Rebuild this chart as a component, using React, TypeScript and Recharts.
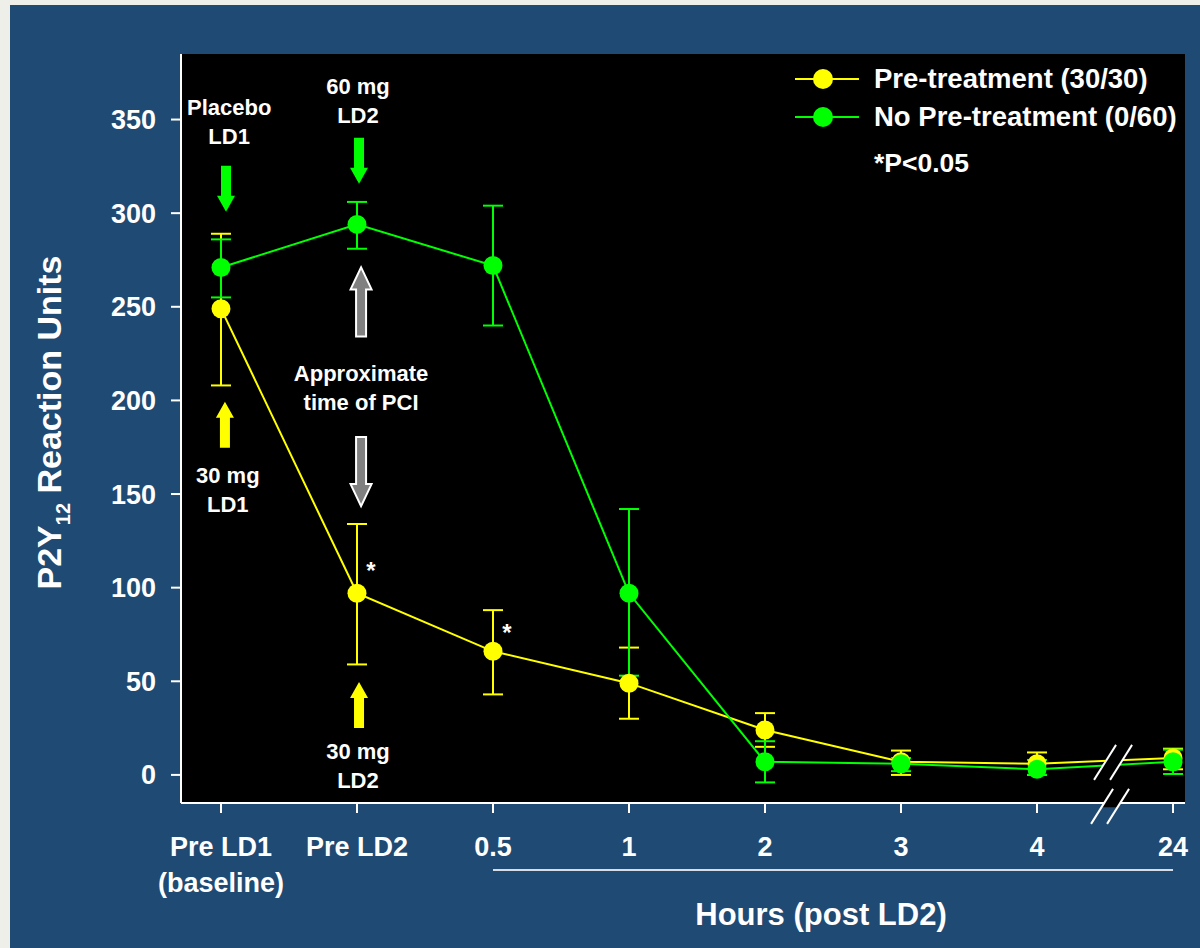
import React from 'react';
import {
  LineChart,
  Line,
  XAxis,
  YAxis,
  CartesianGrid,
  ErrorBar,
  Legend,
  ReferenceDot,
  ReferenceLine,
} from 'recharts';

const FONT = "'Liberation Sans', Arial, Helvetica, sans-serif";
const YELLOW = '#ffff00';
const GREEN = '#00ff00';

// Time points (x index 0..7)
const timeLabels = ['Pre LD1\n(baseline)', 'Pre LD2', '0.5', '1', '2', '3', '4', '24'];

// Pre-treatment (30/30): mean and error bar limits
const preTreatment = [249, 97, 66, 49, 24, 7, 6, 9];
const preTreatmentLow = [208, 59, 43, 30, 15, 0, 0, 3];
const preTreatmentHigh = [289, 134, 88, 68, 33, 13, 12, 14];

// No pre-treatment (0/60): mean and error bar limits
const noPreTreatment = [271, 294, 272, 97, 7, 6, 3, 7];
const noPreTreatmentLow = [255, 281, 240, 53, -4, 2, 0, 0.5];
const noPreTreatmentHigh = [286, 306, 304, 142, 18, 9, 8, 13.5];

const yTicks = [0, 50, 100, 150, 200, 250, 300, 350];

// Legend order follows the series order
const seriesOrder = ['pre', 'noPre'];

// Dosing annotations (text blocks, in data coordinates)
const doseNotes = [
  { x: 0.06, y: 349, lines: ['Placebo', 'LD1'] },
  { x: 1.007, y: 360, lines: ['60 mg', 'LD2'] },
  { x: 1.03, y: 207, lines: ['Approximate', 'time of PCI'] },
  { x: 0.05, y: 152.5, lines: ['30 mg', 'LD1'] },
  { x: 1.007, y: 4.8, lines: ['30 mg', 'LD2'] },
];

// Solid dosing arrows
const doseArrows = [
  { x: 0.037, y: 313, dir: 'down', color: GREEN },
  { x: 1.015, y: 328, dir: 'down', color: GREEN },
  { x: 0.029, y: 187, dir: 'up', color: YELLOW },
  { x: 1.015, y: 37.4, dir: 'up', color: YELLOW },
];

// Outlined PCI arrows
const pciArrows = [
  { x: 1.03, y: 252.6, dir: 'up' },
  { x: 1.03, y: 162, dir: 'down' },
];

// Significance markers
const significance = [
  { x: 1.103, y: 112 },
  { x: 2.103, y: 79 },
];

const data = timeLabels.map((label, i) => ({
  x: i,
  label,
  pre: preTreatment[i],
  preErr: [preTreatment[i] - preTreatmentLow[i], preTreatmentHigh[i] - preTreatment[i]],
  noPre: noPreTreatment[i],
  noPreErr: [noPreTreatment[i] - noPreTreatmentLow[i], noPreTreatmentHigh[i] - noPreTreatment[i]],
}));

function arrowPoints(cx: number, cy: number, dir: string, len: number, shaftW: number, headW: number, headL: number) {
  const s = dir === 'down' ? 1 : -1;
  const tail = cy - (s * len) / 2;
  const tip = cy + (s * len) / 2;
  const neck = tip - s * headL;
  return [
    [cx - shaftW / 2, tail],
    [cx + shaftW / 2, tail],
    [cx + shaftW / 2, neck],
    [cx + headW / 2, neck],
    [cx, tip],
    [cx - headW / 2, neck],
    [cx - shaftW / 2, neck],
  ]
    .map((p) => p.join(','))
    .join(' ');
}

const NoteText = (lines: string[]) => (props: any) => {
  const { cx, cy } = props;
  const gap = 29;
  const start = cy - ((lines.length - 1) * gap) / 2;
  return (
    <text textAnchor="middle" fill="#fff" fontSize={22} fontWeight="bold" fontFamily={FONT}>
      {lines.map((l, i) => (
        <tspan key={i} x={cx} y={start + i * gap} dy="0.36em">
          {l}
        </tspan>
      ))}
    </text>
  );
};

const SolidArrow = (dir: string, color: string) => (props: any) => (
  <polygon points={arrowPoints(props.cx, props.cy, dir, 46, 10, 18, 16)} fill={color} stroke="none" />
);

const OutlineArrow = (dir: string) => (props: any) => (
  <polygon
    points={arrowPoints(props.cx, props.cy, dir, 69, 10, 21, 22)}
    fill="#808080"
    stroke="#ffffff"
    strokeWidth={2}
    strokeLinejoin="miter"
  />
);

const Asterisk = (props: any) => (
  <text x={props.cx} y={props.cy} dy="0.57em" textAnchor="middle" fill="#fff" fontSize={24} fontWeight="bold" fontFamily={FONT}>
    *
  </text>
);

// Axis-break marks: two slashes with a black gap between them
const BreakMark = (maskTop: number, maskBottom: number) => (props: any) => {
  const { cx, cy } = props;
  const half = 17.5;
  const run = 22 / 35;
  const x1 = (y: number) => cx - 8 - (y - cy) * run;
  const x2 = (y: number) => cx + 8 - (y - cy) * run;
  const ya = cy + maskTop;
  const yb = cy + maskBottom;
  const mask = [
    [x1(ya), ya],
    [x2(ya), ya],
    [x2(yb), yb],
    [x1(yb), yb],
  ]
    .map((p) => p.join(','))
    .join(' ');
  return (
    <g>
      <polygon points={mask} fill="#000" stroke="none" />
      <line x1={x1(cy + half)} y1={cy + half} x2={x1(cy - half)} y2={cy - half} stroke="#fff" strokeWidth={2} />
      <line x1={x2(cy + half)} y1={cy + half} x2={x2(cy - half)} y2={cy - half} stroke="#fff" strokeWidth={2} />
    </g>
  );
};

const XTick = (props: any) => {
  const { x, y, payload } = props;
  const lines = String(timeLabels[payload.value] ?? '').split('\n');
  return (
    <text textAnchor="middle" fill="#fff" fontSize={27} fontWeight="bold" fontFamily={FONT}>
      {lines.map((l, i) => (
        <tspan key={i} x={x} y={y + i * 36} dy="0.71em">
          {l}
        </tspan>
      ))}
    </text>
  );
};

const YLabel = (props: any) => {
  const vb = props.viewBox;
  const x = vb.x + 49;
  const y = vb.y + vb.height / 2 - 6;
  return (
    <text
      x={x}
      y={y}
      dy="0.36em"
      transform={`rotate(-90 ${x} ${y})`}
      textAnchor="middle"
      fill="#fff"
      fontSize={34}
      fontWeight="bold"
      fontFamily={FONT}
    >
      P2Y
      <tspan fontSize={20} dy={9}>
        12
      </tspan>
      <tspan dy={-9}> Reaction Units</tspan>
    </text>
  );
};

const XLabel = (props: any) => {
  const vb = props.viewBox;
  return (
    <text
      x={vb.x + vb.width / 2 + 138}
      y={vb.y + vb.height - 23}
      textAnchor="middle"
      fill="#fff"
      fontSize={31}
      fontWeight="bold"
      fontFamily={FONT}
    >
      Hours (post LD2)
    </text>
  );
};

const renderLegend = (props: any) => {
  const payload = [...(props.payload || [])].sort(
    (a: any, b: any) => seriesOrder.indexOf(a.dataKey) - seriesOrder.indexOf(b.dataKey)
  );
  return (
    <div style={{ fontFamily: FONT, color: '#fff', fontWeight: 'bold', fontSize: 27.5 }}>
      {payload.map((entry: any, i: number) => (
        <div key={i} style={{ display: 'flex', alignItems: 'center', height: 38 }}>
          <svg width={64} height={22} style={{ display: 'block' }}>
            <line x1={0} y1={11} x2={64} y2={11} stroke={entry.color} strokeWidth={2} />
            <circle cx={28} cy={11} r={10} fill={entry.color} />
          </svg>
          <span style={{ marginLeft: 15, whiteSpace: 'nowrap' }}>{entry.value}</span>
        </div>
      ))}
      <div style={{ marginLeft: 79, marginTop: 8, height: 38, lineHeight: '38px', fontSize: 26.5 }}>*P&lt;0.05</div>
    </div>
  );
};

export default function App() {
  return (
    <div style={{ position: 'absolute', left: 0, top: 0, width: 1200, height: 948, background: '#efefe9' }}>
      <div style={{ position: 'absolute', left: 10, top: 5, right: 0, bottom: 0, background: '#1f4a73' }} />
      <div style={{ position: 'absolute', left: 0, top: 0 }}>
        <LineChart width={1200} height={948} data={data} margin={{ top: 54, right: 15, bottom: 0, left: 0 }}>
          <CartesianGrid horizontal={false} vertical={false} fill="#000" fillOpacity={1} stroke="none" />
          <XAxis
            type="number"
            dataKey="x"
            domain={[-0.294, 7.088]}
            ticks={[0, 1, 2, 3, 4, 5, 6, 7]}
            interval={0}
            allowDataOverflow
            height={145}
            axisLine={{ stroke: '#ffffff', strokeWidth: 2 }}
            tickLine={{ stroke: '#ffffff', strokeWidth: 2 }}
            tickSize={10}
            tickMargin={24}
            tick={<XTick />}
            label={{ content: XLabel }}
          />
          <YAxis
            type="number"
            domain={[-15, 385]}
            ticks={yTicks}
            interval={0}
            allowDataOverflow
            width={181}
            axisLine={{ stroke: '#ffffff', strokeWidth: 2 }}
            tickLine={{ stroke: '#ffffff', strokeWidth: 2 }}
            tickSize={10}
            tickMargin={15}
            tick={{ fill: '#ffffff', fontSize: 27, fontWeight: 'bold', fontFamily: FONT }}
            label={{ content: YLabel }}
          />
          <Legend
            content={renderLegend}
            layout="horizontal"
            verticalAlign="middle"
            align="center"
            wrapperStyle={{ left: 795, top: 60, width: 400, height: 140 }}
          />
          <Line
            type="linear"
            dataKey="pre"
            name="Pre-treatment (30/30)"
            stroke={YELLOW}
            strokeWidth={2}
            dot={{ r: 9.5, fill: YELLOW, stroke: 'none' }}
            activeDot={false}
            isAnimationActive={false}
          >
            <ErrorBar dataKey="preErr" direction="y" width={10} stroke={YELLOW} strokeWidth={2} isAnimationActive={false} />
          </Line>
          <Line
            type="linear"
            dataKey="noPre"
            name="No Pre-treatment (0/60)"
            stroke={GREEN}
            strokeWidth={2}
            dot={{ r: 9.5, fill: GREEN, stroke: 'none' }}
            activeDot={false}
            isAnimationActive={false}
          >
            <ErrorBar dataKey="noPreErr" direction="y" width={10} stroke={GREEN} strokeWidth={2} isAnimationActive={false} />
          </Line>

          <ReferenceLine
            segment={[
              { x: 2, y: -50.8 },
              { x: 7, y: -50.8 },
            ]}
            stroke="#d6dde6"
            strokeWidth={2}
            ifOverflow="visible"
          />

          {doseNotes.map((n, i) => (
            <ReferenceDot key={`note-${i}`} x={n.x} y={n.y} r={1} ifOverflow="visible" shape={NoteText(n.lines)} zIndex={1000} />
          ))}
          {doseArrows.map((a, i) => (
            <ReferenceDot key={`dose-${i}`} x={a.x} y={a.y} r={1} ifOverflow="visible" shape={SolidArrow(a.dir, a.color)} zIndex={1000} />
          ))}
          {pciArrows.map((a, i) => (
            <ReferenceDot key={`pci-${i}`} x={a.x} y={a.y} r={1} ifOverflow="visible" shape={OutlineArrow(a.dir)} zIndex={1000} />
          ))}
          {significance.map((s, i) => (
            <ReferenceDot key={`sig-${i}`} x={s.x} y={s.y} r={1} ifOverflow="visible" shape={Asterisk} zIndex={1000} />
          ))}
          <ReferenceDot x={6.559} y={6.7} r={1} ifOverflow="visible" shape={BreakMark(-17.5, 17.5)} zIndex={1000} />
          <ReferenceDot x={6.537} y={-16.8} r={1} ifOverflow="visible" shape={BreakMark(-17, 1)} zIndex={1000} />
        </LineChart>
      </div>
    </div>
  );
}
